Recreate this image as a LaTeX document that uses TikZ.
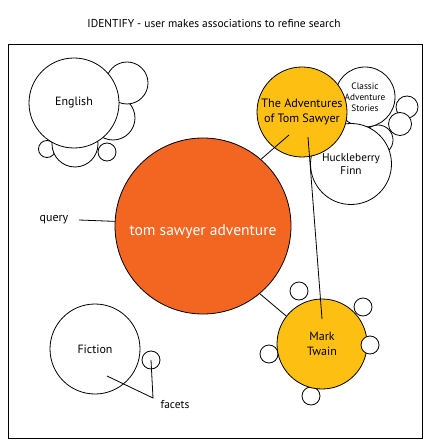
\documentclass[tikz,border=0pt]{standalone}
\usepackage{fontspec}
\setmainfont{PT Sans}
\usetikzlibrary{positioning}
\definecolor{searchorange}{RGB}{243,102,34}
\definecolor{hityellow}{RGB}{253,192,18}
\tikzset{
  bubble/.style={circle,draw,fill=white,inner sep=0pt,minimum size=#1,align=center},
  hit/.style={bubble=#1,fill=hityellow},
  fs/.style={font=\fontsize{#1}{1.2\dimexpr#1pt\relax}\selectfont},
}

\begin{document}
\begin{tikzpicture}[x=1bp,y=-1bp,line width=0.8bp,fs=12]
	\useasboundingbox (0,0) rectangle (429,445);
	\node[fs=11.5] (title) at (214,24) {IDENTIFY - user makes associations to refine search};
	\draw (8,44) rectangle (422,438);
	% English and its neighbours
	\node[bubble=44bp] (engR) at (113,118) {};
	\node[bubble=42bp] (engUp) at (127,83) {};
	\node[bubble=17bp] (engSmL) at (47,149) {};
	\node[bubble=18bp] (engSmR) at (107,152) {};
	\node[bubble=46bp] (engLow) at (75,144) {};
	\node[bubble=90bp] (english) at (74,103) {English};
	% right hand cluster
	\node[bubble=30bp] (hidden) at (378,140) {};
	\node[bubble=60bp,fs=9.3] (classic) at (365,97) {Classic\\Adventure\\Stories};
	\node[bubble=22bp] (clsUp) at (407,107) {};
	\node[bubble=23bp] (clsLow) at (400,124) {};
	\node[bubble=81bp,fs=11.3] (huck) at (351,164) {Huckleberry\\Finn};
	\node[hit=90bp,fs=12.2] (tomsawyer) at (302,112) {The Adventures\\of Tom Sawyer};
	% query
	\node[bubble=176bp,fill=searchorange] (search) at (203,226) {};
	\node[text=white,fs=15.6] (searchtxt) at (203,232) {tom sawyer adventure};
	\node[fs=12] (querylbl) at (54,220) {query};
	\draw ([xshift=7bp]querylbl.east) -- (search.177);
	% Mark Twain
	\node[bubble=18bp] (twA) at (299,291) {};
	\node[bubble=18bp] (twB) at (363,307) {};
	\node[bubble=18bp] (twD) at (269,354) {};
	\node[bubble=18bp] (twE) at (311,396) {};
	\node[hit=90bp] (twain) at (322,344) {Mark\\Twain};
	\node[bubble=18bp] (twC) at (370,345) {};
	% links
	\coordinate (tsTip) at (289,135);
	\coordinate (tsFoot) at (308,137);
	\coordinate (twTop) at (322,319);
	\draw (search.49) -- (tsTip);
	\draw (search.-50) -- (twain.142);
	\draw (tsFoot) -- (twTop);
	% Fiction and facets
	\node[bubble=90bp] (fiction) at (95,349) {Fiction};
	\node[bubble=18bp] (facet) at (151,360) {};
	\node[fs=11.5] (facetlbl) at (175,405) {facets};
	\coordinate (facetApex) at (153,398);
	\coordinate (ficFoot) at (107,376);
	\draw (ficFoot) -- (facetApex) -- (facet.center);
\end{tikzpicture}
\end{document}
